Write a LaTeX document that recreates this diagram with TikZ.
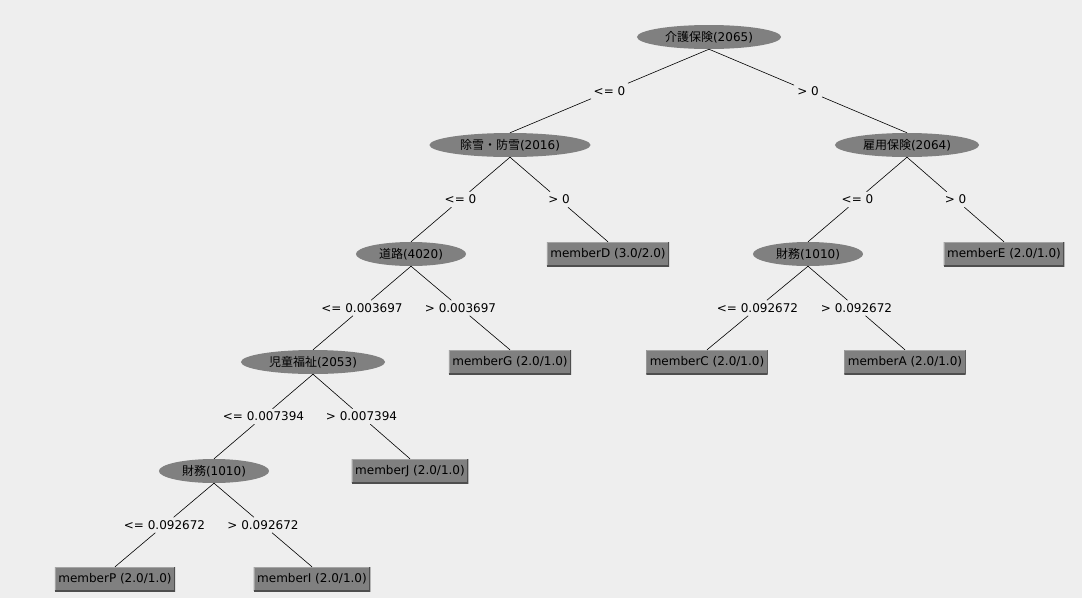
\documentclass[tikz,border=0pt]{standalone}
\usepackage{fontspec}
\setmainfont{DejaVu Sans}
\newfontfamily\jp{Noto Sans CJK JP}
\usepackage{tikz}
\usetikzlibrary{shapes.geometric, calc}
\usepackage{xcolor}
\definecolor{canvas}{HTML}{EEEEEE}
\definecolor{nodegray}{HTML}{808080}
\definecolor{boxdark}{HTML}{4E4E4E}
\definecolor{boxlight}{HTML}{A4A4A4}
\tikzset{
    split/.style={
        ellipse, fill=nodegray, inner xsep=7pt, inner ysep=1pt,
        minimum height=24pt
    },
    leaf/.style={
        rectangle, fill=nodegray, minimum height=24pt, inner xsep=3.5pt,
        path picture={
            \draw[boxlight, line width=2pt] (path picture bounding box.south west)
                |- (path picture bounding box.north east);
            \draw[boxdark, line width=2pt] (path picture bounding box.south west)
                -| (path picture bounding box.north east);
        }
    },
    cond/.style={
        inner sep=3pt
    },
    edge/.style={
        draw=black, line width=0.6pt
    }
}

\begin{document}
\begin{tikzpicture}[x=1pt, y=-1pt, font=\fontsize{12}{14}\selectfont]

    \fill[canvas] (0,0) rectangle (1082,598);
    \useasboundingbox (0,0) rectangle (1082,598);

    % split nodes
    \node[split] (root)   at (709,37)  {{\jp 介護保険}(2065)};
    \node[split] (snow)   at (510,145) {{\jp 除雪・防雪}(2016)};
    \node[split] (employ) at (907,145) {{\jp 雇用保険}(2064)};
    \node[split] (road)   at (411,254) {{\jp 道路}(4020)};
    \node[split] (finR)   at (808,254) {{\jp 財務}(1010)};
    \node[split] (child)  at (313,362) {{\jp 児童福祉}(2053)};
    \node[split] (finL)   at (214,471) {{\jp 財務}(1010)};

    % leaves
    \node[leaf] (memD) at (608,254) {memberD (3.0/2.0)};
    \node[leaf] (memE) at (1004,254) {memberE (2.0/1.0)};
    \node[leaf] (memG) at (510,362) {memberG (2.0/1.0)};
    \node[leaf] (memC) at (707,362) {memberC (2.0/1.0)};
    \node[leaf] (memA) at (905,362) {memberA (2.0/1.0)};
    \node[leaf] (memJ) at (410,471) {memberJ (2.0/1.0)};
    \node[leaf] (memP) at (115,579) {memberP (2.0/1.0)};
    \node[leaf] (memI) at (312,579) {memberI (2.0/1.0)};

    % conditions
    \node[cond] (cRootL)   at ($(root.south)!0.5!(snow.north)$)   {<= 0};
    \node[cond] (cRootR)   at ($(root.south)!0.5!(employ.north)$) {> 0};
    \node[cond] (cSnowL)   at ($(snow.south)!0.5!(road.north)$)   {<= 0};
    \node[cond] (cSnowR)   at ($(snow.south)!0.5!(memD.north)$)   {> 0};
    \node[cond] (cEmployL) at ($(employ.south)!0.5!(finR.north)$) {<= 0};
    \node[cond] (cEmployR) at ($(employ.south)!0.5!(memE.north)$) {> 0};
    \node[cond] (cRoadL)   at ($(road.south)!0.5!(child.north)$)  {<= 0.003697};
    \node[cond] (cRoadR)   at ($(road.south)!0.5!(memG.north)$)   {> 0.003697};
    \node[cond] (cFinRL)   at ($(finR.south)!0.5!(memC.north)$)   {<= 0.092672};
    \node[cond] (cFinRR)   at ($(finR.south)!0.5!(memA.north)$)   {> 0.092672};
    \node[cond] (cChildL)  at ($(child.south)!0.5!(finL.north)$)  {<= 0.007394};
    \node[cond] (cChildR)  at ($(child.south)!0.5!(memJ.north)$)  {> 0.007394};
    \node[cond] (cFinLL)   at ($(finL.south)!0.5!(memP.north)$)   {<= 0.092672};
    \node[cond] (cFinLR)   at ($(finL.south)!0.5!(memI.north)$)   {> 0.092672};

    \draw[edge] (root.south)   -- (cRootL)   -- (snow.north);
    \draw[edge] (root.south)   -- (cRootR)   -- (employ.north);
    \draw[edge] (snow.south)   -- (cSnowL)   -- (road.north);
    \draw[edge] (snow.south)   -- (cSnowR)   -- (memD.north);
    \draw[edge] (employ.south) -- (cEmployL) -- (finR.north);
    \draw[edge] (employ.south) -- (cEmployR) -- (memE.north);
    \draw[edge] (road.south)   -- (cRoadL)   -- (child.north);
    \draw[edge] (road.south)   -- (cRoadR)   -- (memG.north);
    \draw[edge] (finR.south)   -- (cFinRL)   -- (memC.north);
    \draw[edge] (finR.south)   -- (cFinRR)   -- (memA.north);
    \draw[edge] (child.south)  -- (cChildL)  -- (finL.north);
    \draw[edge] (child.south)  -- (cChildR)  -- (memJ.north);
    \draw[edge] (finL.south)   -- (cFinLL)   -- (memP.north);
    \draw[edge] (finL.south)   -- (cFinLR)   -- (memI.north);

\end{tikzpicture}
\end{document}
